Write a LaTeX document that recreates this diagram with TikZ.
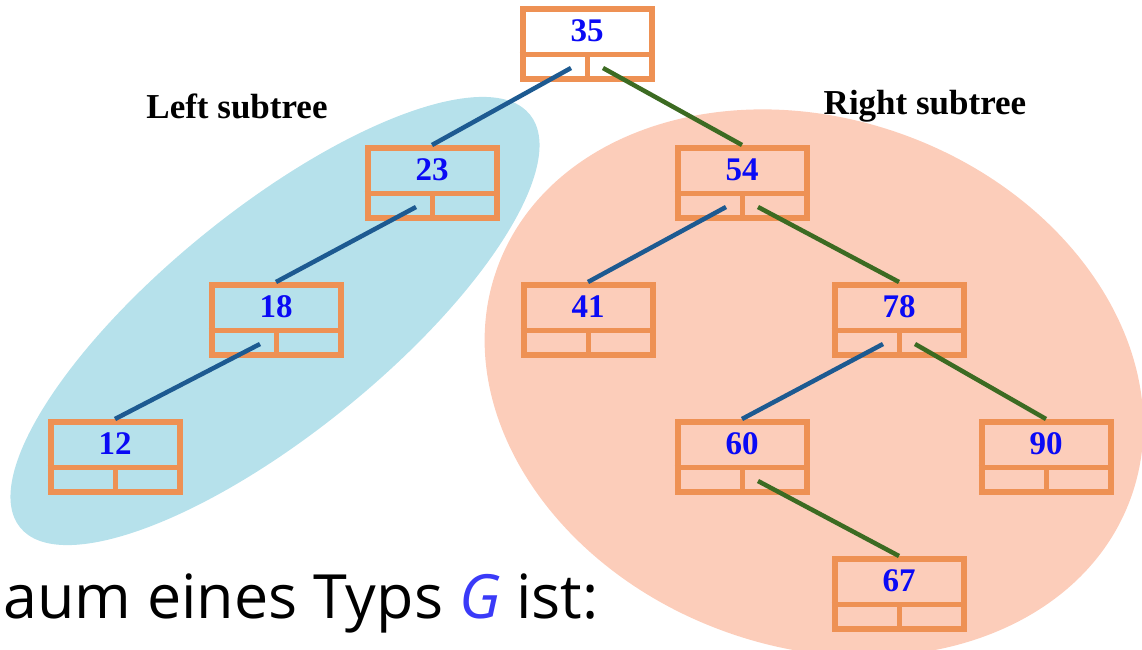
\documentclass[tikz,border=0pt]{standalone}
\usepackage{fontspec}
\setmainfont{Liberation Serif}
\newfontfamily\handfont{Open Sans}
\definecolor{boxorange}{HTML}{EE9154}
\definecolor{leftfill}{HTML}{B6E1EB}
\definecolor{rightfill}{HTML}{FCCDBA}
\definecolor{numblue}{HTML}{0A0AF5}
\definecolor{edgeblue}{HTML}{1D5A91}
\definecolor{edgegreen}{HTML}{3C6B22}
\definecolor{gblue}{HTML}{3A3AF8}
\begin{document}
\begin{tikzpicture}[x=1pt,y=-1pt,
    bnode/.style={rectangle,draw=boxorange,line width=6pt,minimum width=129pt,minimum height=70pt,inner sep=0pt},
    bline/.style={draw=boxorange,line width=5pt},
    num/.style={font=\fontsize{33}{33}\selectfont\bfseries,text=numblue,inner sep=0pt},
    lbl/.style={font=\fontsize{35}{35}\selectfont\bfseries,inner sep=0pt},
    ledge/.style={draw=edgeblue,line width=4.5pt},
    redge/.style={draw=edgegreen,line width=4.5pt}]

  \useasboundingbox (0,0) rectangle (1142,649);

  \fill[leftfill,rotate around={39:(275,321)}] (275,321) ellipse [x radius=328pt,y radius=112pt];
  \fill[rightfill,rotate around={-20:(814,383)}] (814,383) ellipse [x radius=337pt,y radius=264pt];

  \node[lbl] (lt) at (237,106) {Left subtree};
  \node[lbl] (rt) at (925,106) {Right subtree};

  \foreach \v/\x/\y in {35/587/44, 23/432/183, 54/742/183, 18/276/320, 41/588/320,
                        78/899/320, 12/115/457, 60/742/457, 90/1046/457, 67/899/594} {
    \node[bnode] (n\v) at (\x,\y) {};
    \node[num] at ([yshift=13pt]n\v.center) {\v};
    \draw[bline] ([yshift=-10.5pt]n\v.west) -- ([yshift=-10.5pt]n\v.east);
    \draw[bline] ([yshift=-10.5pt]n\v.center) -- (n\v.south);
  }

  \begin{scope}[ledge]
    \path (n35) ++(-16pt,-24pt) edge (n23.north);
    \path (n23) ++(-16pt,-24pt) edge (n18.north);
    \path (n18) ++(-16pt,-24pt) edge (n12.north);
    \path (n54) ++(-16pt,-24pt) edge (n41.north);
    \path (n78) ++(-16pt,-24pt) edge (n60.north);
  \end{scope}
  \begin{scope}[redge]
    \path (n35) ++(16pt,-24pt) edge (n54.north);
    \path (n54) ++(16pt,-24pt) edge (n78.north);
    \path (n78) ++(16pt,-24pt) edge (n90.north);
    \path (n60) ++(16pt,-24pt) edge (n67.north);
  \end{scope}

  \node[font=\handfont\fontsize{61}{61}\selectfont,inner sep=0pt,anchor=base west] (txt) at (3,618)
    {aum eines Typs \textcolor{gblue}{\textit{G}} ist:};

\end{tikzpicture}
\end{document}
